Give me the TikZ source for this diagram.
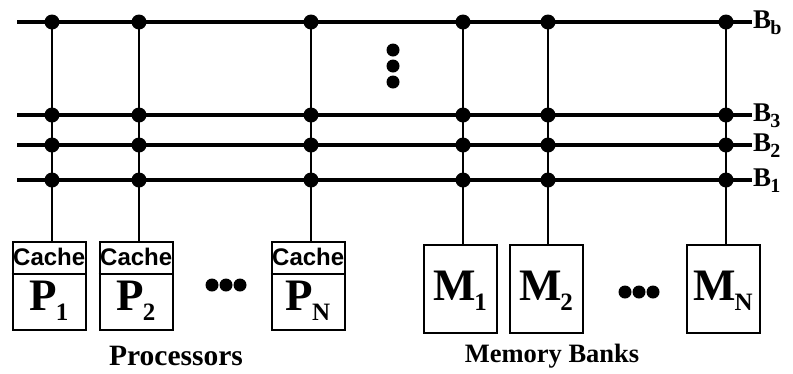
\documentclass[tikz,border=0pt]{standalone}
\usepackage{fontspec}
\setmainfont{Liberation Serif}
\newfontfamily\cachefont{Liberation Sans}
\begin{document}
\begin{tikzpicture}[x=1pt,y=-1pt,
  bus/.style={line width=3.2pt},
  drop/.style={line width=2.2pt},
  junction/.style={circle,fill=black,inner sep=0pt,minimum size=15pt},
  unitbox/.style={draw,line width=2pt,minimum width=73pt,minimum height=88pt,inner sep=0pt},
  cachetext/.style={font=\cachefont\bfseries\fontsize{24}{24}\selectfont,inner sep=0pt,anchor=west},
  bigtext/.style={font=\bfseries\fontsize{45}{45}\selectfont,inner sep=0pt},
  buslabel/.style={font=\bfseries\fontsize{27}{27}\selectfont,inner sep=0pt,anchor=west},
  caption/.style={font=\bfseries\fontsize{#1}{#1}\selectfont,inner sep=0pt},
  caption/.default=28,
  ellipsisdot/.style={circle,fill=black,inner sep=0pt,minimum size=13pt}]
\useasboundingbox (0,0) rectangle (793,373);

% letter with a lowered subscript tucked in
\newcommand{\subl}[3]{#1\kern-0.03em\raisebox{-0.22em}{\fontsize{#3}{#3}\selectfont #2}}

% processor boxes with cache on top
\foreach \n/\x/\s in {p1/49/1,p2/136/2,pn/308/N}{
  \node[unitbox] (\n) at (\x,286) {};
  \draw[line width=2pt] ([yshift=-33pt]\n.north west) -- ([yshift=-33pt]\n.north east);
  \node[cachetext] (\n c) at ([xshift=1.5pt,yshift=-16pt]\n.north west) {Cache};
  \node[bigtext] (\n l) at ([yshift=-60pt]\n.north) {\subl{P}{\s}{25}};
}
% memory banks
\foreach \n/\x/\s in {m1/460/1,m2/546/2,mn/723/N}{
  \node[unitbox] (\n) at (\x,289) {};
  \node[bigtext] (\n l) at ([yshift=-47pt]\n.north) {\subl{M}{\s}{25}};
}

% horizontal ellipses between boxes
\foreach \k/\x/\y in {a/212/285,b/226/285,c/240/285,d/625/292,e/639/292,f/653/292}
  \node[ellipsisdot] (e\k) at (\x,\y) {};
% vertical ellipsis between buses
\foreach \k/\y in {a/50,b/66,c/82}
  \node[ellipsisdot] (v\k) at (393,\y) {};

% buses
\foreach \b/\y/\s in {bb/22/b,b3/115/3,b2/145/2,b1/180/1}{
  \coordinate (\b L) at (17,\y);
  \coordinate (\b R) at (752,\y);
  \draw[bus] (\b L) -- (\b R);
  \node[buslabel] (\b lab) at (753,\y+1) {\subl{B}{\s}{20}};
}

% drops from the top bus to each unit, with taps on every bus
\foreach \n/\x in {p1/52,p2/139,pn/311,m1/463,m2/548,mn/726}{
  \coordinate (\n top) at (\x,22);
  \draw[drop] (\n top) -- (\n top |- \n.north);
  \foreach \b/\y in {bb/22,b3/115,b2/145,b1/180}
    \node[junction] (\n\b) at (\x,\y) {};
}

% captions
\node[caption=29.5] (proc) at (176,356) {Processors};
\node[caption=26.5] (mem) at (552,356) {Memory Banks};
\end{tikzpicture}
\end{document}
